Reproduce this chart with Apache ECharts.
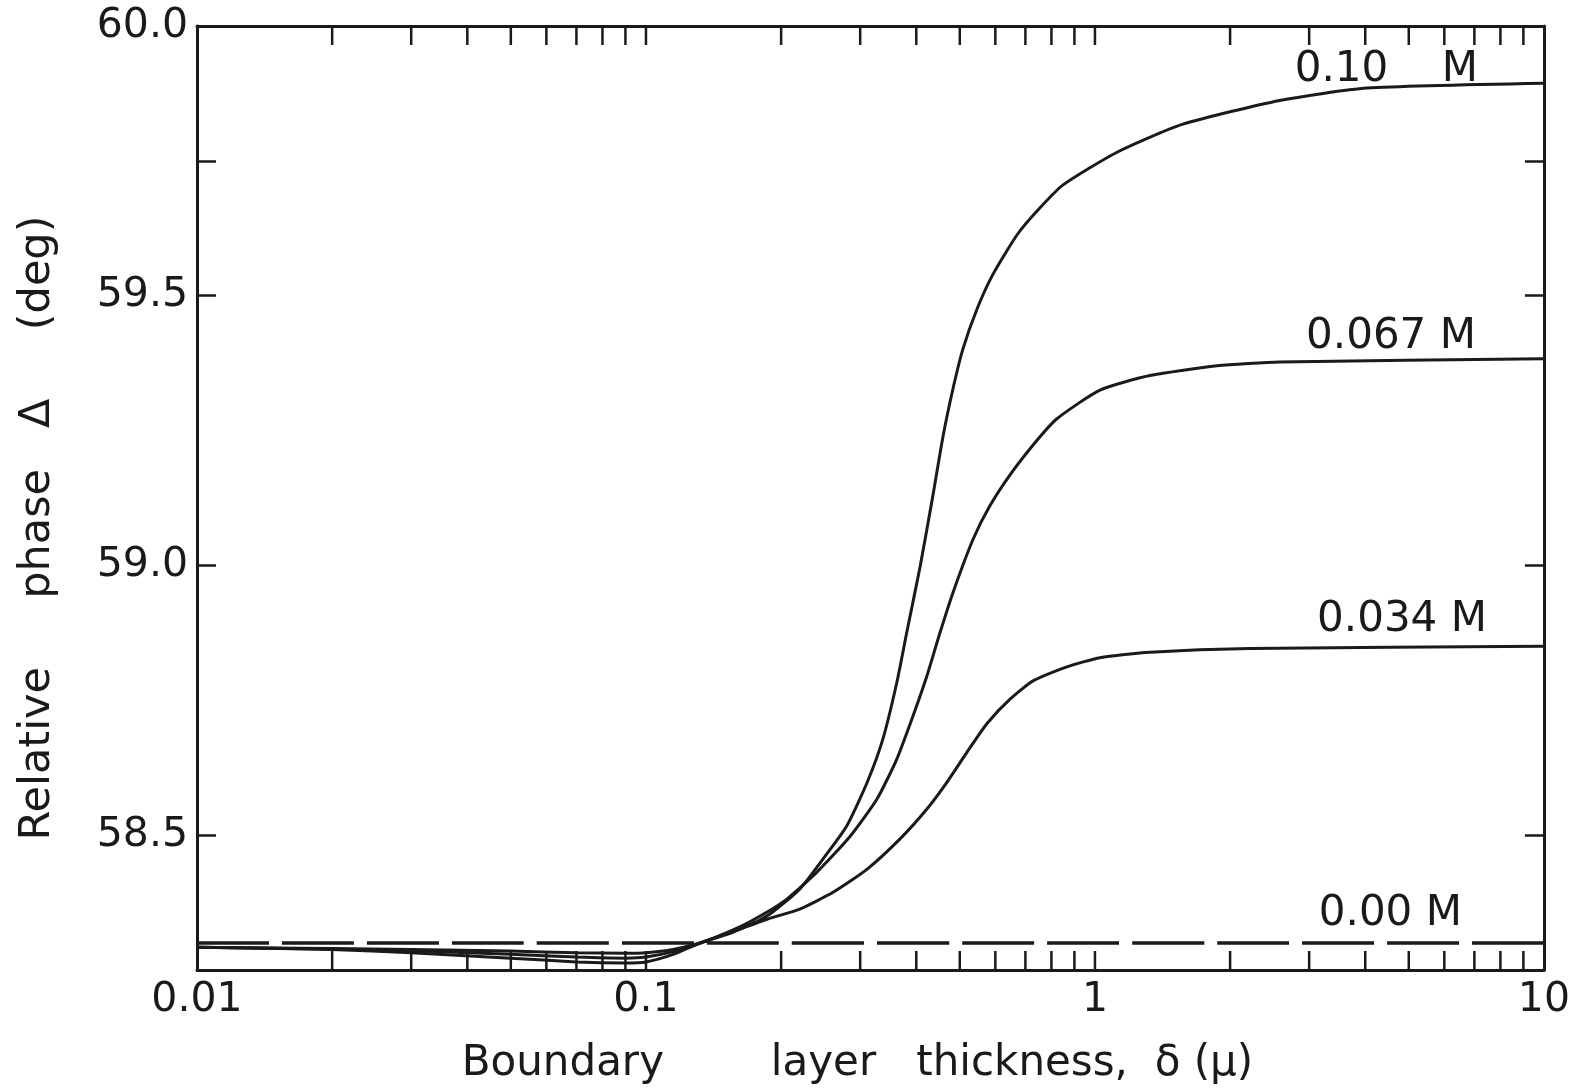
<!DOCTYPE html>
<html><head><meta charset="utf-8">
<script src="https://cdn.jsdelivr.net/npm/echarts@6/dist/echarts.min.js"></script>
<style>html,body{margin:0;padding:0;background:#fff;} #c{width:1573px;height:1091px;}</style>
</head><body><div id="c"></div>
<script>
// Axis ranges and tick marks
const yMin = 58.25, yMax = 60.0;
const xMin = 0.01, xMax = 10;
const yTickLabels = [58.5, 59.0, 59.5, 60.0];
const yTickMarks = [58.5, 59.0, 59.5, 59.75];
const xTickMarks = [0.02, 0.03, 0.04, 0.05, 0.06, 0.07, 0.08, 0.09, 0.1,
                    0.2, 0.3, 0.4, 0.5, 0.6, 0.7, 0.8, 0.9, 1,
                    2, 3, 4, 5, 6, 7, 8, 9];

// Curve labels
const curveNames = ['0.10    M', '0.067 M', '0.034 M', '0.00 M'];

// 0.10 M
const delta010 = [0.01, 0.02, 0.03, 0.05, 0.07, 0.09, 0.1, 0.115, 0.132, 0.156, 0.186, 0.22, 0.248, 0.28, 0.311, 0.337, 0.362, 0.381, 0.408, 0.434, 0.459, 0.483, 0.508, 0.546, 0.593, 0.671, 0.743, 0.848, 1.12, 1.57, 2.58, 4.03, 10];
const phase010 = [58.292, 58.288, 58.282, 58.272, 58.265, 58.263, 58.265, 58.279, 58.300, 58.320, 58.350, 58.400, 58.456, 58.517, 58.598, 58.678, 58.783, 58.876, 58.998, 59.122, 59.240, 59.328, 59.401, 59.475, 59.540, 59.613, 59.657, 59.705, 59.766, 59.818, 59.862, 59.885, 59.894];

// 0.067 M
const delta067 = [0.01, 0.02, 0.03, 0.05, 0.07, 0.09, 0.1, 0.115, 0.132, 0.15, 0.17, 0.202, 0.24, 0.285, 0.327, 0.362, 0.393, 0.422, 0.452, 0.483, 0.535, 0.583, 0.647, 0.743, 0.823, 1.026, 1.326, 1.869, 2.58, 10];
const phase067 = [58.292, 58.289, 58.286, 58.279, 58.274, 58.272, 58.274, 58.284, 58.300, 58.318, 58.339, 58.376, 58.431, 58.498, 58.567, 58.641, 58.720, 58.794, 58.876, 58.950, 59.048, 59.110, 59.168, 59.232, 59.272, 59.325, 59.352, 59.370, 59.377, 59.383];

// 0.034 M
const delta034 = [0.01, 0.02, 0.03, 0.05, 0.07, 0.09, 0.1, 0.115, 0.132, 0.15, 0.186, 0.22, 0.261, 0.311, 0.368, 0.422, 0.468, 0.519, 0.575, 0.647, 0.728, 0.866, 1.026, 1.326, 2.21, 10];
const phase034 = [58.292, 58.290, 58.288, 58.285, 58.282, 58.281, 58.282, 58.288, 58.300, 58.316, 58.344, 58.363, 58.394, 58.437, 58.493, 58.548, 58.598, 58.654, 58.707, 58.752, 58.786, 58.812, 58.829, 58.839, 58.846, 58.850];

// 0.00 M (dashed)
const delta000 = [0.01, 10];
const phase000 = [58.30, 58.30];

const INK = '#1a1a1a';
const FONT = 'DejaVu Sans';

function pairs(xs, ys) { return xs.map((x, i) => [x, ys[i]]); }

function curveLabel(text, xs, ys, dx, dy) {
  return {
    symbol: 'circle', symbolSize: 0, silent: true,
    data: [{ coord: [xs[xs.length - 1], ys[ys.length - 1]] }],
    label: {
      show: true, formatter: text, position: 'inside',
      align: 'right', verticalAlign: 'middle', offset: [dx, dy],
      color: INK, fontSize: 42, fontFamily: FONT
    }
  };
}

function curve(name, xs, ys, dx, dy, dashed) {
  return {
    name: name, type: 'line', data: pairs(xs, ys),
    showSymbol: false, smooth: 0.2, silent: true, z: 3,
    lineStyle: { color: INK, width: dashed ? 3.5 : 3, type: dashed ? [72, 13] : 'solid' },
    markPoint: curveLabel(name, xs, ys, dx, dy)
  };
}

const chart = echarts.init(document.getElementById('c'), null, { renderer: 'canvas' });

const axisLineStyle = { show: true, lineStyle: { color: INK, width: 3 } };

chart.setOption({
  backgroundColor: '#ffffff',
  animation: false,
  grid: { left: 197, right: 29, top: 26, bottom: 121, containLabel: false },
  xAxis: [
    {
      type: 'log', logBase: 10, min: xMin, max: xMax, position: 'bottom',
      axisLine: axisLineStyle, axisTick: { show: false }, splitLine: { show: false },
      axisLabel: { color: INK, fontSize: 41, fontFamily: FONT, margin: 10,
        formatter: v => String(+v.toPrecision(3)) },
      name: 'Boundary        layer   thickness,  δ (μ)',
      nameLocation: 'middle', nameGap: 73,
      nameTextStyle: { color: INK, fontSize: 42, fontFamily: FONT, padding: [0, 26, 0, 0] }
    },
    {
      type: 'log', logBase: 10, min: xMin, max: xMax, position: 'top',
      axisLine: axisLineStyle, axisTick: { show: false }, axisLabel: { show: false },
      splitLine: { show: false }
    }
  ],
  yAxis: [
    {
      type: 'value', min: yMin, max: yMax, interval: 0.25, position: 'left',
      axisLine: axisLineStyle, splitLine: { show: false },
      axisTick: { show: true, inside: true, length: 19, customValues: yTickMarks,
        lineStyle: { color: INK, width: 2.5 } },
      axisLabel: { color: INK, fontSize: 41, fontFamily: FONT, margin: 9,
        customValues: yTickLabels, formatter: v => Number(v).toFixed(1) },
      name: 'Relative     phase   Δ     (deg)',
      nameLocation: 'middle', nameGap: 138, nameRotate: 90,
      nameTextStyle: { color: INK, fontSize: 43, fontFamily: FONT, padding: [0, 60, 0, 0] }
    },
    {
      type: 'value', min: yMin, max: yMax, interval: 0.25, position: 'right',
      axisLine: axisLineStyle, splitLine: { show: false },
      axisTick: { show: true, inside: true, length: 19, customValues: yTickMarks,
        lineStyle: { color: INK, width: 2.5 } },
      axisLabel: { show: false }
    }
  ],
  series: [
    {
      type: 'custom', silent: true, clip: false, z: 5,
      data: xTickMarks.map(v => [v, yMin]),
      encode: { x: 0, y: 1 },
      renderItem: function (params, api) {
        const x = api.value(0);
        const b = api.coord([x, yMin]);
        const t = api.coord([x, yMax]);
        const st = { stroke: INK, lineWidth: 2.5 };
        return {
          type: 'group',
          children: [
            { type: 'line', shape: { x1: b[0], y1: b[1], x2: b[0], y2: b[1] - 19 }, style: st },
            { type: 'line', shape: { x1: t[0], y1: t[1], x2: t[0], y2: t[1] + 19 }, style: st }
          ]
        };
      }
    },
    curve(curveNames[0], delta010, phase010, -66, -13, false),
    curve(curveNames[1], delta067, phase067, -68, -22, false),
    curve(curveNames[2], delta034, phase034, -57, -26, false),
    curve(curveNames[3], delta000, phase000, -82, -29, true)
  ]
});
</script>
</body></html>
